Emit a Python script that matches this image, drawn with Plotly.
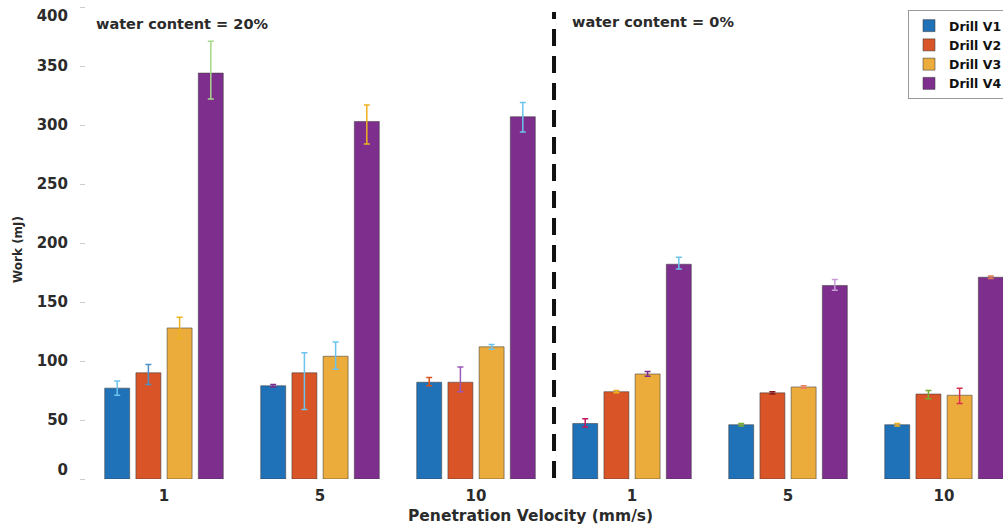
import plotly.graph_objects as go

# ---- data ----
velocity_labels = ["1", "5", "10", "1", "5", "10"]
group_pos = [0, 1, 2, 3, 4, 5]
series_names = ["Drill V1", "Drill V2", "Drill V3", "Drill V4"]

v1 = [77, 79, 82, 47, 46, 46]
v2 = [90, 90, 82, 74, 73, 72]
v3 = [128, 104, 112, 89, 78, 71]
v4 = [344, 303, 307, 182, 164, 171]

v1_err_plus = [6, 1, 4, 4, 1, 1]
v1_err_minus = [6, 1, 3, 3, 1, 1]
v2_err_plus = [7, 17, 13, 1, 1, 3]
v2_err_minus = [10, 31, 8, 1, 1, 4]
v3_err_plus = [9, 12, 2, 2, 1, 6]
v3_err_minus = [9, 11, 2, 2, 1, 7]
v4_err_plus = [27, 14, 12, 6, 5, 1]
v4_err_minus = [22, 19, 13, 4, 4, 1]

y_mid_ticks = [50, 100, 150, 200, 250, 300, 350]
y_top_tick = [400]
y_bottom_tick = [0]

values = [v1, v2, v3, v4]
err_plus = [v1_err_plus, v2_err_plus, v3_err_plus, v4_err_plus]
err_minus = [v1_err_minus, v2_err_minus, v3_err_minus, v4_err_minus]

# ---- styles ----
bar_colors = ["#1f72b8", "#d95427", "#ebac3c", "#7e2f8e"]
err_colors = [
    ["#6cc3ee", "#7e2f8e", "#d95319", "#c2185b", "#77ac30", "#edb120"],
    ["#4d8fc9", "#6cc3ee", "#9b59b6", "#edb120", "#8b1a1a", "#77ac30"],
    ["#edb120", "#6cc3ee", "#6cc3ee", "#7e2f8e", "#f08060", "#d9304f"],
    ["#a8d88a", "#edb120", "#6cc3ee", "#6cc3ee", "#c79bd6", "#e07a50"],
]

FONT = "DejaVu Sans"
TXT = "#2b2b2b"

W, H = 1003, 528
L, T, B = 86, 7, 528 - 479
PW, PH = W - L, H - T - B  # plot area size


def px_x(p):  # page x -> paper x
    return (p - L) / PW


def px_y(p):  # page y -> paper y
    return (479 - p) / PH


fig = go.Figure()
for i, name in enumerate(series_names):
    for j, xpos in enumerate(group_pos):
        fig.add_trace(go.Bar(
            x=[xpos], y=[values[i][j]],
            name=name, legendgroup=name, showlegend=(j == 0),
            offsetgroup=str(i),
            marker=dict(color=bar_colors[i], line=dict(color="rgba(60,60,60,0.55)", width=1)),
            error_y=dict(type="data", symmetric=False,
                         array=[err_plus[i][j]], arrayminus=[err_minus[i][j]],
                         color=err_colors[i][j], thickness=1.5, width=3),
        ))

# invisible helpers so the extra label axes are drawn
for ax in ["y2", "y3"]:
    fig.add_trace(go.Scatter(x=[group_pos[0]], y=[y_bottom_tick[0]], yaxis=ax, mode="markers",
                             marker=dict(opacity=0), showlegend=False, hoverinfo="skip"))

fig.add_shape(type="line", xref="x", yref="paper", x0=2.5, x1=2.5, y0=px_y(478), y1=px_y(12),
              line=dict(color="#111111", width=4, dash="17px,10px"))

ann_font = dict(family=FONT, size=14.5, color=TXT, weight="bold")
fig.add_annotation(text="water content = 20%", xref="paper", yref="paper", xanchor="center",
                   yanchor="middle", x=px_x(182), y=px_y(24), showarrow=False, font=ann_font)
fig.add_annotation(text="water content = 0%", xref="paper", yref="paper", xanchor="center",
                   yanchor="middle", x=px_x(653), y=px_y(22), showarrow=False, font=ann_font)
fig.add_annotation(text="Penetration Velocity (mm/s)", xref="paper", yref="paper", xanchor="center",
                   yanchor="middle", x=px_x(530), y=px_y(516), showarrow=False,
                   font=dict(family=FONT, size=15.5, color=TXT, weight="bold"))
fig.add_annotation(text="Work (mJ)", xref="paper", yref="paper", xanchor="center",
                   yanchor="middle", x=px_x(18), y=px_y(250), showarrow=False, textangle=-90,
                   font=dict(family=FONT, size=12, color=TXT, weight="bold"))

ytick_font = dict(family=FONT, size=15, color=TXT, weight="bold")
yaxis_common = dict(range=[0, 400], showgrid=False, zeroline=False, showline=False,
                    ticks="outside", ticklen=5, tickcolor="#cccccc", ticklabelstandoff=9,
                    tickfont=ytick_font, ticklabeloverflow="allow")

fig.update_layout(
    width=W, height=H,
    margin=dict(l=L, r=0, t=T, b=B, autoexpand=False),
    paper_bgcolor="white", plot_bgcolor="white",
    barmode="group", bargap=0.2, bargroupgap=0.2,
    font=dict(family=FONT, color=TXT),
    showlegend=True,
    legend=dict(x=px_x(908), y=px_y(10), xanchor="left", yanchor="top",
                bgcolor="white", bordercolor="#9a9a9a", borderwidth=1,
                font=dict(family=FONT, size=12.5, color="#111", weight="bold"),
                tracegroupgap=0, itemwidth=30),
    xaxis=dict(range=[-0.5, 5.378], tickmode="array", tickvals=group_pos, ticktext=velocity_labels,
               showgrid=False, zeroline=False, showline=False, ticks="",
               tickfont=dict(family=FONT, size=15, color=TXT, weight="bold"), ticklabelstandoff=6),
    yaxis=dict(tickmode="array", tickvals=y_mid_ticks, **yaxis_common),
    yaxis2=dict(overlaying="y", side="left", tickmode="array", tickvals=y_top_tick,
                ticklabelshift=9, **yaxis_common),
    yaxis3=dict(overlaying="y", side="left", tickmode="array", tickvals=y_bottom_tick,
                ticklabelshift=-9, **yaxis_common),
)

fig.write_html(
    "out.html",
    config={"displayModeBar": False},
    post_script="document.body.style.margin='0';document.body.style.overflow='hidden';",
)
